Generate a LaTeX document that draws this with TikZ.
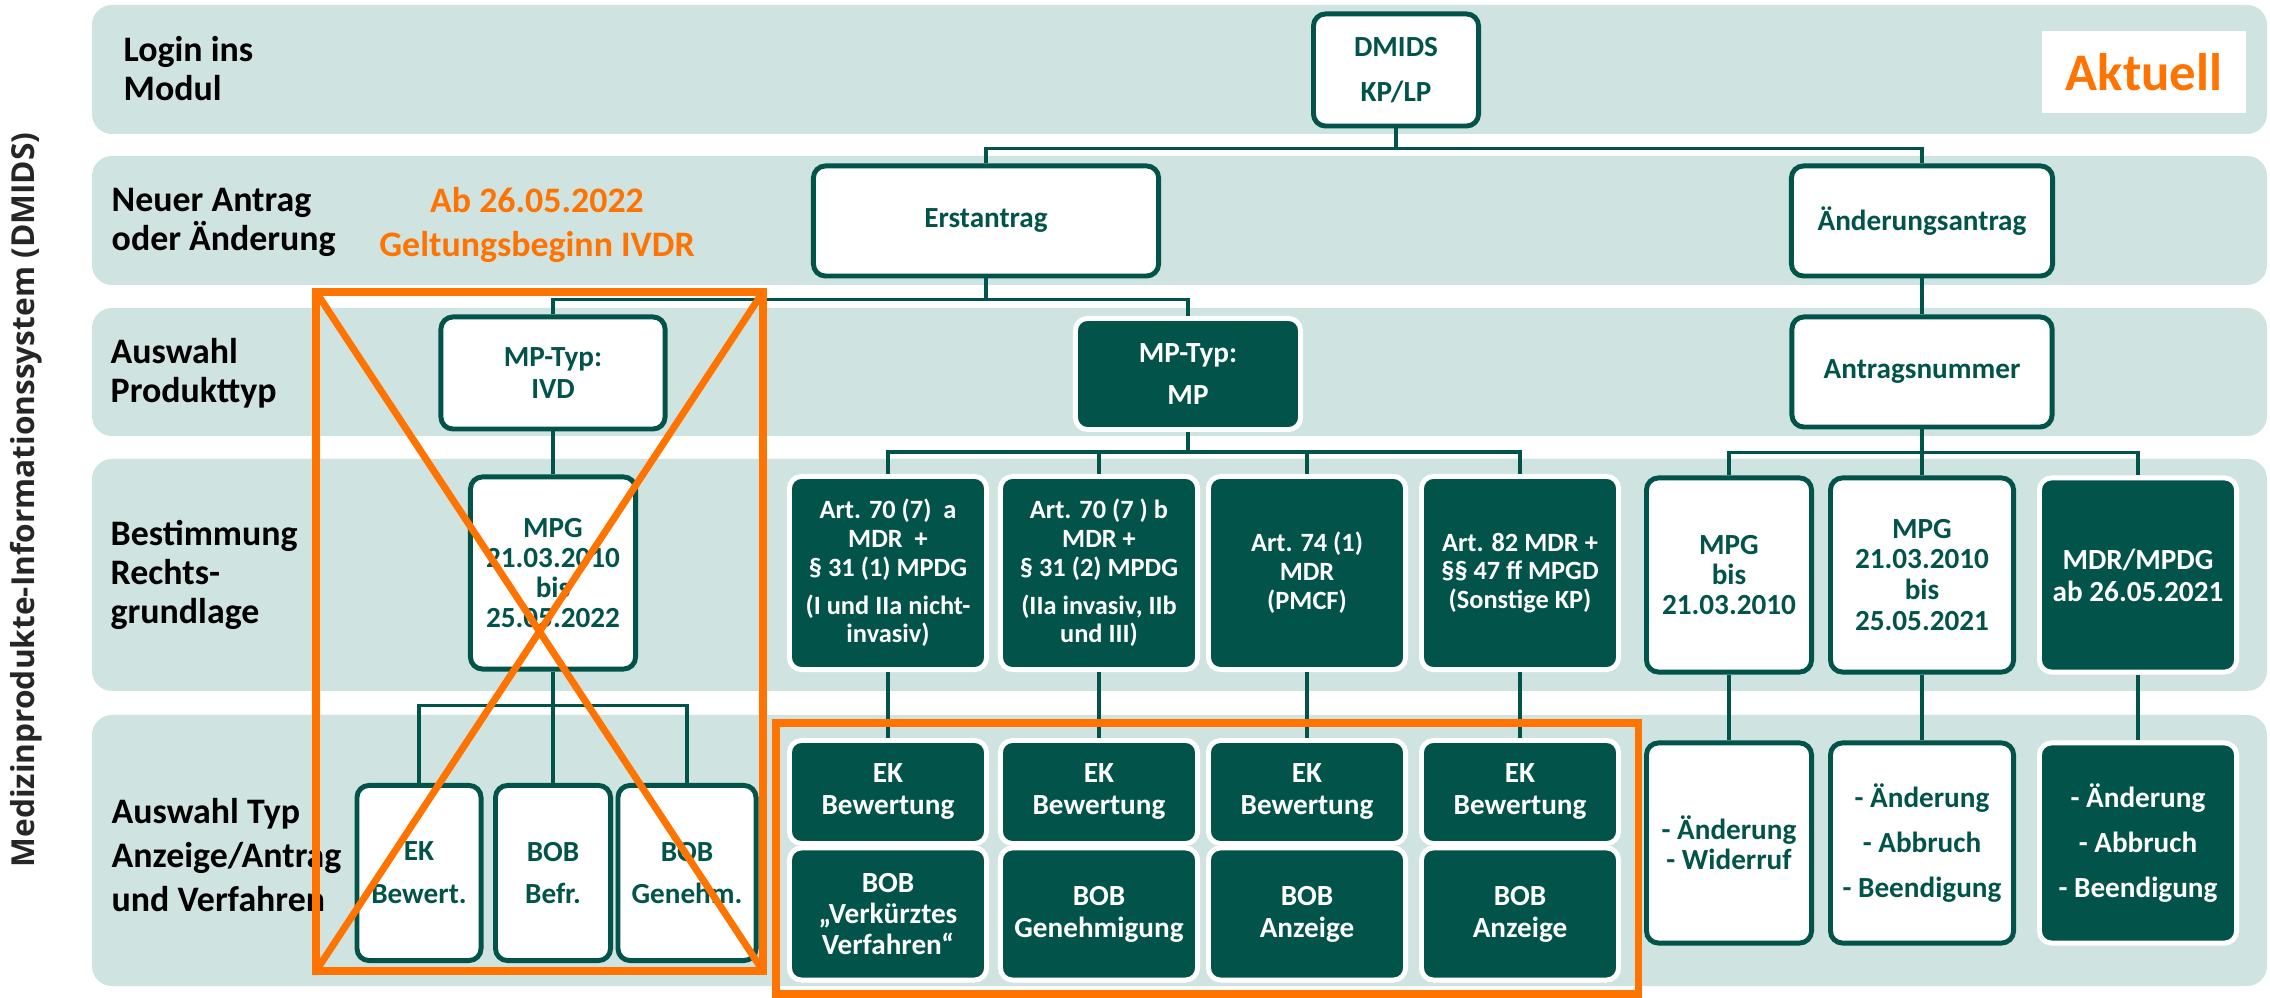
\documentclass[tikz,border=0pt]{standalone}
\usepackage{fontspec}
\setmainfont{Carlito}
\newfontfamily\sidefont{Open Sans}

\definecolor{dmgreen}{RGB}{2,84,74}
\definecolor{bandgreen}{RGB}{207,227,224}
\definecolor{dmorange}{RGB}{255,115,0}

\newcommand{\boxfont}[1]{\fontsize{8.3}{#1}\selectfont\bfseries}
\newcommand{\artfont}{\fontsize{7.5}{8.2}\selectfont\bfseries}

\tikzset{
  band/.style={fill=bandgreen, rounded corners=0.2cm},
  rowlabel/.style={anchor=west, align=left, inner sep=0pt, font=\fontsize{10.2}{11.1}\selectfont\bfseries},
  whitebox/.style={draw=dmgreen, line width=1.4pt, fill=white, rounded corners=0.12cm,
    text=dmgreen, align=center, inner sep=0pt, font=\boxfont{9.1}},
  darkbox/.style={draw=white, line width=1.4pt, fill=dmgreen, rounded corners=0.12cm,
    text=white, align=center, inner sep=0pt, font=\boxfont{9.1}},
  conn/.style={dmgreen, line width=0.9pt},
  crossout/.style={draw=dmorange, line width=2pt},
}

\begin{document}
\begin{tikzpicture}[x=0.01cm, y=-0.01cm]
    \useasboundingbox (0,0) rectangle (2270,998);

    % Zeilen
    \fill[band] (92,5) rectangle (2267,134);
    \fill[band] (92,156) rectangle (2267,285);
    \fill[band] (92,308) rectangle (2267,436);
    \fill[band] (92,459) rectangle (2267,691);
    \fill[band] (92,715) rectangle (2267,986);

    \node[rotate=90, text=black!85, font=\fontsize{9}{10}\sidefont\bfseries] (side) at (26,500) {Medizinprodukte-Informationssystem (DMIDS)};

    \node[rowlabel] (lblogin) at (123,69) {Login ins\\Modul};
    \node[rowlabel] (lbantrag) at (111,222) {Neuer Antrag\\oder Änderung};
    \node[rowlabel] (lbtyp) at (110,373) {Auswahl\\Produkttyp};
    \node[rowlabel] (lbrecht) at (110,575) {Bestimmung\\Rechts-\\grundlage};
    \node[rowlabel, font=\fontsize{10.2}{12.6}\selectfont\bfseries] (lbverf) at (111,855) {Auswahl Typ\\Anzeige/Antrag\\und Verfahren};

    \node[align=center, text=dmorange, font=\fontsize{10.2}{12.5}\selectfont\bfseries] (ivdr) at (537,225) {Ab 26.05.2022\\Geltungsbeginn IVDR};
    \node[fill=white, minimum width=2.03cm, minimum height=0.81cm, text=dmorange, font=\fontsize{15}{18}\selectfont\bfseries] (aktuell) at (2144,72) {Aktuell};

    % Baum
    \node[whitebox, minimum width=1.65cm, minimum height=1.12cm, font=\boxfont{12.8}] (dmids) at (1396,70) {DMIDS\\KP/LP};
    \node[whitebox, minimum width=3.45cm, minimum height=1.10cm] (erst) at (986,221) {Erstantrag};
    \node[whitebox, minimum width=2.61cm, minimum height=1.10cm] (aend) at (1922,221) {Änderungsantrag};

    \node[whitebox, minimum width=2.24cm, minimum height=1.12cm] (ivd) at (553,373) {MP-Typ:\\IVD};
    \node[darkbox, minimum width=2.25cm, minimum height=1.11cm, font=\boxfont{12.2}] (mp) at (1188,374) {MP-Typ:\\MP};
    \node[whitebox, minimum width=2.60cm, minimum height=1.10cm] (antr) at (1922,372) {Antragsnummer};

    \node[whitebox, minimum width=1.65cm, minimum height=1.92cm, font=\boxfont{8.5}] (mpgivd) at (553,573) {MPG\\21.03.2010\\bis\\25.05.2022};
    \node[darkbox, minimum width=1.97cm, minimum height=1.93cm, font=\artfont] (art1) at (888,573) {Art. 70 (7)\ \ a\\MDR\ \ +\\§ 31 (1) MPDG\\[2.5pt](I und IIa nicht-\\invasiv)};
    \node[darkbox, minimum width=1.97cm, minimum height=1.93cm, font=\artfont] (art2) at (1099,573) {Art. 70 (7 ) b\\MDR +\\§ 31 (2) MPDG\\[2.5pt](IIa invasiv, IIb\\und III)};
    \node[darkbox, minimum width=1.97cm, minimum height=1.93cm, font=\artfont] (art3) at (1307,573) {Art. 74 (1)\\MDR\\(PMCF)};
    \node[darkbox, minimum width=1.97cm, minimum height=1.93cm, font=\artfont] (art4) at (1520,573) {Art. 82 MDR +\\§§ 47 ff MPGD\\(Sonstige KP)};
    \node[whitebox, minimum width=1.65cm, minimum height=1.94cm, font=\boxfont{8.6}] (mpg1) at (1729,575) {MPG\\bis\\21.03.2010};
    \node[whitebox, minimum width=1.83cm, minimum height=1.94cm, font=\boxfont{8.8}] (mpg2) at (1922,575) {MPG\\21.03.2010\\bis\\25.05.2021};
    \node[darkbox, minimum width=1.97cm, minimum height=1.94cm] (mdr) at (2138,575) {MDR/MPDG\\ab 26.05.2021};

    \node[whitebox, minimum width=1.24cm, minimum height=1.75cm, font=\boxfont{12.2}] (ek0) at (419,873) {EK\\Bewert.};
    \node[whitebox, minimum width=1.15cm, minimum height=1.75cm, font=\boxfont{12.2}] (bob0a) at (553,873) {BOB\\Befr.};
    \node[whitebox, minimum width=1.38cm, minimum height=1.75cm, font=\boxfont{12.2}] (bob0b) at (687,873) {BOB\\Genehm.};

    \node[darkbox, minimum width=1.97cm, minimum height=1.03cm] (ek1) at (888,792) {EK\\Bewertung};
    \node[darkbox, minimum width=1.97cm, minimum height=1.03cm] (ek2) at (1099,792) {EK\\Bewertung};
    \node[darkbox, minimum width=1.97cm, minimum height=1.03cm] (ek3) at (1307,792) {EK\\Bewertung};
    \node[darkbox, minimum width=1.97cm, minimum height=1.03cm] (ek4) at (1520,792) {EK\\Bewertung};
    \node[darkbox, minimum width=1.97cm, minimum height=1.32cm, font=\boxfont{8.8}] (bob1) at (888,914) {BOB\\„Verkürztes\\Verfahren“};
    \node[darkbox, minimum width=1.97cm, minimum height=1.32cm] (bob2) at (1099,914) {BOB\\Genehmigung};
    \node[darkbox, minimum width=1.97cm, minimum height=1.32cm] (bob3) at (1307,914) {BOB\\Anzeige};
    \node[darkbox, minimum width=1.97cm, minimum height=1.32cm] (bob4) at (1520,914) {BOB\\Anzeige};

    \node[whitebox, minimum width=1.65cm, minimum height=2.00cm, font=\boxfont{8.6}] (act1) at (1729,843) {- Änderung\\- Widerruf};
    \node[whitebox, minimum width=1.83cm, minimum height=2.00cm, font=\boxfont{12.8}] (act2) at (1922,843) {- Änderung\\- Abbruch\\- Beendigung};
    \node[darkbox, minimum width=1.97cm, minimum height=2.00cm, font=\boxfont{12.8}] (act3) at (2138,843) {- Änderung\\- Abbruch\\- Beendigung};

    % Verbindungen
    \draw[conn] (dmids.south) -- ++(0,20) -| (erst.north);
    \draw[conn] (dmids.south) -- ++(0,20) -| (aend.north);
    \draw[conn] (erst.south) -- ++(0,21) -| (ivd.north);
    \draw[conn] (erst.south) -- ++(0,21) -| (mp.north);
    \draw[conn] (aend) -- (antr);
    \draw[conn] (ivd) -- (mpgivd);
    \draw[conn] (mp.south) -- ++(0,20) -| (art1.north);
    \draw[conn] (mp.south) -- ++(0,20) -| (art2.north);
    \draw[conn] (mp.south) -- ++(0,20) -| (art3.north);
    \draw[conn] (mp.south) -- ++(0,20) -| (art4.north);
    \draw[conn] (antr.south) -- ++(0,23) -| (mpg1.north);
    \draw[conn] (antr.south) -- ++(0,23) -| (mpg2.north);
    \draw[conn] (antr.south) -- ++(0,23) -| (mdr.north);
    \draw[conn] (mpgivd.south) -- ++(0,34) -| (ek0.north);
    \draw[conn] (mpgivd.south) -- ++(0,34) -| (bob0a.north);
    \draw[conn] (mpgivd.south) -- ++(0,34) -| (bob0b.north);
    \draw[conn] (art1) -- (ek1);
    \draw[conn] (art2) -- (ek2);
    \draw[conn] (art3) -- (ek3);
    \draw[conn] (art4) -- (ek4);
    \draw[conn] (mpg1) -- (act1);
    \draw[conn] (mpg2) -- (act2);
    \draw[conn] (mdr) -- (act3);

    % IVD durchgestrichen, MDR-Verfahren markiert
    \draw[crossout] (316,292) rectangle (763,971);
    \draw[crossout] (316,292) -- (763,971);
    \draw[crossout] (763,292) -- (316,971);
    \draw[crossout] (776,723) rectangle (1638,994);
\end{tikzpicture}
\end{document}
